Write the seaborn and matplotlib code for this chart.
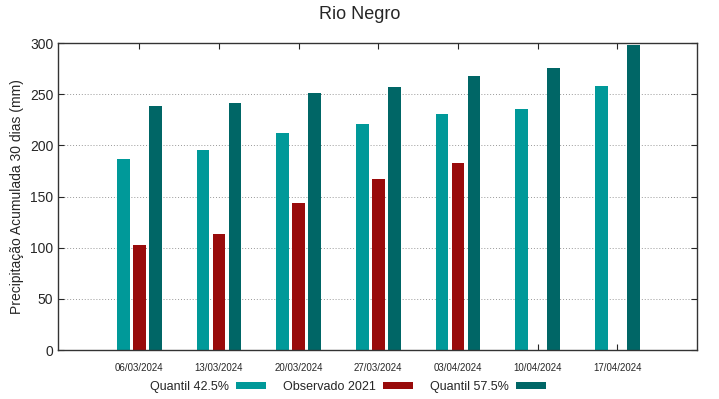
import pandas as pd
import numpy as np
import seaborn as sns
import matplotlib.pyplot as plt
from matplotlib.patches import Patch

datas = ['06/03/2024', '13/03/2024', '20/03/2024', '27/03/2024',
         '03/04/2024', '10/04/2024', '17/04/2024']
quantil_425 = [187, 195, 212, 221, 231, 236, 258]
observado_2021 = [103, 113, 144, 167, 183, np.nan, np.nan]
quantil_575 = [238, 241, 251, 257, 268, 276, 298]
series = ['Quantil 42.5%', 'Observado 2021', 'Quantil 57.5%']
cores = ['#009999', '#990b0b', '#006666']

df = pd.DataFrame({
    'data': datas * 3,
    'serie': [series[0]] * 7 + [series[1]] * 7 + [series[2]] * 7,
    'valor': quantil_425 + observado_2021 + quantil_575,
})

sns.set_style('white')
plt.rcParams['font.family'] = ['Liberation Sans', 'DejaVu Sans']

fig = plt.figure(figsize=(7.19, 3.99), dpi=100)
ax = fig.add_axes([0.0807, 0.1228, 0.8887, 0.7694])

sns.barplot(data=df, x='data', y='valor', hue='serie', hue_order=series,
            palette=cores, saturation=1, width=0.6, gap=0.2, errorbar=None,
            edgecolor=None, linewidth=0, ax=ax, legend=False)

ax.set_xlim(-1.02, 7.0)
ax.set_ylim(0, 300)
ax.set_yticks(range(0, 301, 50))
for y in range(50, 300, 50):
    ax.axhline(y, color='#999999', linestyle=(0, (1, 2)), linewidth=0.7, zorder=0)

ax.tick_params(axis='x', labelsize=7, direction='in', top=True, bottom=True,
               length=4, pad=9)
ax.tick_params(axis='y', labelsize=10, direction='in', left=True, right=True, length=4)
for s in ax.spines.values():
    s.set_color('#333333')
    s.set_linewidth(1)

ax.set_xlabel('')
ax.set_ylabel('Precipitação Acumulada 30 dias (mm)', fontsize=10)
fig.suptitle('Rio Negro', fontsize=13, y=0.985)

handles = [Patch(facecolor=c, edgecolor='none') for c in cores]
fig.legend(handles, series, loc='center', bbox_to_anchor=(0.484, 0.03), ncol=3,
           frameon=False, markerfirst=False, fontsize=9, handlelength=2.4,
           handleheight=0.5, columnspacing=1.4, handletextpad=0.55)

fig.savefig('out.png', dpi=100)
